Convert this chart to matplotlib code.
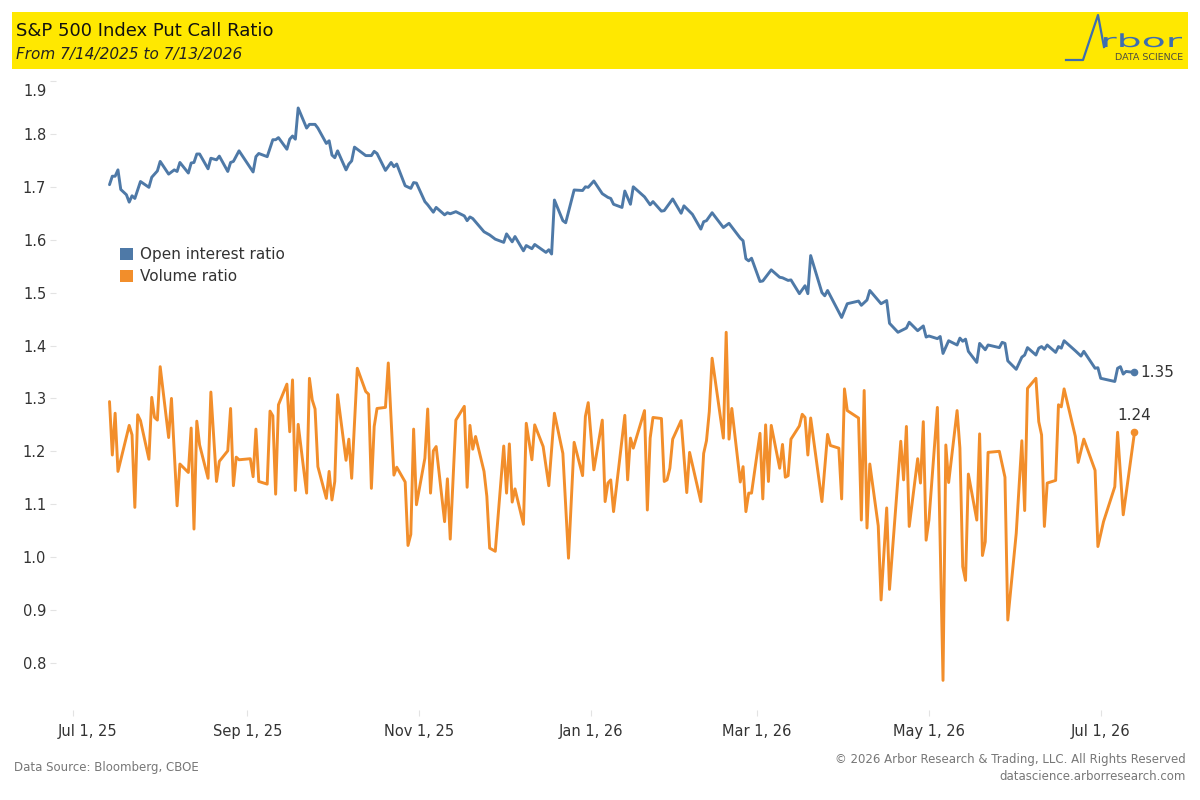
import matplotlib
matplotlib.use('Agg')
import matplotlib.pyplot as plt
import matplotlib.transforms as mtransforms
from matplotlib.patches import Patch, Rectangle, PathPatch
from matplotlib.lines import Line2D
from matplotlib.textpath import TextPath
from matplotlib.font_manager import FontProperties
import pandas as pd

BLUE = '#4E79A7'
ORANGE = '#F28E2B'
YELLOW = '#FFE800'
LOGO = '#3D6DB0'
TXT = '#333333'
GREY = '#777777'

# open interest put/call ratio (date, value)
oi_dates = [
    '2025-07-14', '2025-07-15', '2025-07-16', '2025-07-17', '2025-07-18', '2025-07-20', '2025-07-21',
    '2025-07-22', '2025-07-23', '2025-07-25', '2025-07-28', '2025-07-29', '2025-07-31',
    '2025-08-01', '2025-08-04', '2025-08-06', '2025-08-07', '2025-08-08', '2025-08-11', '2025-08-12',
    '2025-08-13', '2025-08-14', '2025-08-15', '2025-08-18', '2025-08-19', '2025-08-21', '2025-08-22',
    '2025-08-25', '2025-08-26', '2025-08-27', '2025-08-29',
    '2025-09-03', '2025-09-04', '2025-09-05', '2025-09-08', '2025-09-10', '2025-09-11', '2025-09-12',
    '2025-09-15', '2025-09-16', '2025-09-17', '2025-09-18', '2025-09-19', '2025-09-22', '2025-09-23',
    '2025-09-25', '2025-09-26', '2025-09-29', '2025-09-30',
    '2025-10-01', '2025-10-02', '2025-10-03', '2025-10-06', '2025-10-07', '2025-10-08', '2025-10-09',
    '2025-10-13', '2025-10-15', '2025-10-16', '2025-10-17', '2025-10-20', '2025-10-22', '2025-10-23',
    '2025-10-24', '2025-10-27', '2025-10-29', '2025-10-30', '2025-10-31',
    '2025-11-03', '2025-11-04', '2025-11-06', '2025-11-07', '2025-11-10', '2025-11-11', '2025-11-12',
    '2025-11-14', '2025-11-17', '2025-11-18', '2025-11-19', '2025-11-20', '2025-11-24', '2025-11-26',
    '2025-11-28',
    '2025-12-01', '2025-12-02', '2025-12-04', '2025-12-05', '2025-12-08', '2025-12-09', '2025-12-11',
    '2025-12-12', '2025-12-16', '2025-12-17', '2025-12-18', '2025-12-19', '2025-12-22', '2025-12-23',
    '2025-12-26', '2025-12-29', '2025-12-30', '2025-12-31',
    '2026-01-02', '2026-01-05', '2026-01-07', '2026-01-08', '2026-01-09', '2026-01-12', '2026-01-13',
    '2026-01-15', '2026-01-16', '2026-01-20', '2026-01-22', '2026-01-23', '2026-01-26', '2026-01-27',
    '2026-01-30',
    '2026-02-02', '2026-02-03', '2026-02-06', '2026-02-09', '2026-02-10', '2026-02-11', '2026-02-13',
    '2026-02-17', '2026-02-19', '2026-02-23', '2026-02-24', '2026-02-25', '2026-02-26', '2026-02-27',
    '2026-03-02', '2026-03-03', '2026-03-06', '2026-03-09', '2026-03-10', '2026-03-12', '2026-03-13',
    '2026-03-16', '2026-03-18', '2026-03-19', '2026-03-20', '2026-03-24', '2026-03-25', '2026-03-26',
    '2026-03-31',
    '2026-04-02', '2026-04-06', '2026-04-07', '2026-04-09', '2026-04-10', '2026-04-14', '2026-04-16',
    '2026-04-17', '2026-04-20', '2026-04-23', '2026-04-24', '2026-04-27', '2026-04-29', '2026-04-30',
    '2026-05-01', '2026-05-04', '2026-05-05', '2026-05-06', '2026-05-08', '2026-05-11', '2026-05-12',
    '2026-05-13', '2026-05-14', '2026-05-15', '2026-05-18', '2026-05-19', '2026-05-21', '2026-05-22',
    '2026-05-26', '2026-05-27', '2026-05-28', '2026-05-29',
    '2026-06-01', '2026-06-03', '2026-06-04', '2026-06-05', '2026-06-08', '2026-06-09', '2026-06-10',
    '2026-06-11', '2026-06-12', '2026-06-15', '2026-06-16', '2026-06-17', '2026-06-18', '2026-06-22',
    '2026-06-24', '2026-06-25', '2026-06-29', '2026-06-30',
    '2026-07-01', '2026-07-06', '2026-07-07', '2026-07-08', '2026-07-09', '2026-07-10', '2026-07-13',
]
oi_values = [
    1.704, 1.720, 1.720, 1.732, 1.695, 1.685, 1.671,
    1.683, 1.678, 1.710, 1.699, 1.718, 1.730,
    1.748, 1.724, 1.732, 1.729, 1.746, 1.726, 1.745,
    1.746, 1.762, 1.762, 1.734, 1.754, 1.751, 1.758,
    1.729, 1.746, 1.748, 1.768,
    1.728, 1.757, 1.763, 1.757, 1.789, 1.789, 1.793,
    1.771, 1.790, 1.796, 1.790, 1.849, 1.811, 1.818,
    1.818, 1.811, 1.782, 1.787,
    1.760, 1.755, 1.768, 1.732, 1.743, 1.749, 1.775,
    1.759, 1.759, 1.767, 1.763, 1.731, 1.746, 1.738,
    1.743, 1.702, 1.697, 1.708, 1.707,
    1.672, 1.666, 1.652, 1.661, 1.647, 1.651, 1.649,
    1.653, 1.645, 1.636, 1.643, 1.640, 1.615, 1.609,
    1.601,
    1.595, 1.611, 1.596, 1.606, 1.579, 1.589, 1.583,
    1.591, 1.576, 1.581, 1.573, 1.675, 1.636, 1.632,
    1.694, 1.693, 1.700, 1.699,
    1.711, 1.687, 1.680, 1.678, 1.667, 1.661, 1.692,
    1.667, 1.700, 1.681, 1.666, 1.672, 1.654, 1.655,
    1.677,
    1.650, 1.664, 1.648, 1.620, 1.634, 1.636, 1.651,
    1.623, 1.631, 1.603, 1.598, 1.564, 1.560, 1.565,
    1.521, 1.522, 1.543, 1.529, 1.528, 1.523, 1.524,
    1.498, 1.513, 1.498, 1.570, 1.500, 1.494, 1.504,
    1.453,
    1.479, 1.484, 1.476, 1.486, 1.504, 1.479, 1.485,
    1.442, 1.425, 1.433, 1.444, 1.428, 1.437, 1.416,
    1.418, 1.413, 1.417, 1.385, 1.409, 1.401, 1.414,
    1.408, 1.412, 1.389, 1.368, 1.404, 1.392, 1.401,
    1.396, 1.406, 1.404, 1.371,
    1.355, 1.378, 1.382, 1.396, 1.382, 1.395, 1.398,
    1.393, 1.401, 1.387, 1.398, 1.395, 1.409, 1.390,
    1.380, 1.389, 1.357, 1.358,
    1.338, 1.332, 1.357, 1.360, 1.346, 1.351, 1.349,
]

# volume put/call ratio
vol_dates = [
    '2025-07-14', '2025-07-15', '2025-07-16', '2025-07-17', '2025-07-21', '2025-07-22', '2025-07-23',
    '2025-07-24', '2025-07-25', '2025-07-28', '2025-07-29', '2025-07-30', '2025-07-31',
    '2025-08-01', '2025-08-04', '2025-08-05', '2025-08-07', '2025-08-08', '2025-08-11', '2025-08-12',
    '2025-08-13', '2025-08-14', '2025-08-15', '2025-08-18', '2025-08-19', '2025-08-21', '2025-08-22',
    '2025-08-25', '2025-08-26', '2025-08-27', '2025-08-28', '2025-08-29',
    '2025-09-02', '2025-09-03', '2025-09-04', '2025-09-05', '2025-09-08', '2025-09-09', '2025-09-10',
    '2025-09-11', '2025-09-12', '2025-09-15', '2025-09-16', '2025-09-17', '2025-09-18', '2025-09-19',
    '2025-09-22', '2025-09-23', '2025-09-24', '2025-09-25', '2025-09-26', '2025-09-29', '2025-09-30',
    '2025-10-01', '2025-10-02', '2025-10-03', '2025-10-06', '2025-10-07', '2025-10-08', '2025-10-10',
    '2025-10-13', '2025-10-14', '2025-10-15', '2025-10-16', '2025-10-17', '2025-10-20', '2025-10-21',
    '2025-10-23', '2025-10-24', '2025-10-27', '2025-10-28', '2025-10-29', '2025-10-30', '2025-10-31',
    '2025-11-03', '2025-11-04', '2025-11-05', '2025-11-06', '2025-11-07', '2025-11-10', '2025-11-11',
    '2025-11-12', '2025-11-14', '2025-11-17', '2025-11-18', '2025-11-19', '2025-11-20', '2025-11-21',
    '2025-11-24', '2025-11-25', '2025-11-26', '2025-11-28',
    '2025-12-01', '2025-12-02', '2025-12-03', '2025-12-04', '2025-12-05', '2025-12-08', '2025-12-09',
    '2025-12-11', '2025-12-12', '2025-12-15', '2025-12-17', '2025-12-19', '2025-12-22', '2025-12-24',
    '2025-12-26', '2025-12-29', '2025-12-30', '2025-12-31',
    '2026-01-02', '2026-01-05', '2026-01-06', '2026-01-07', '2026-01-08', '2026-01-09', '2026-01-13',
    '2026-01-14', '2026-01-15', '2026-01-16', '2026-01-20', '2026-01-21', '2026-01-22', '2026-01-23',
    '2026-01-26', '2026-01-27', '2026-01-28', '2026-01-29', '2026-01-30',
    '2026-02-02', '2026-02-04', '2026-02-05', '2026-02-09', '2026-02-10', '2026-02-11', '2026-02-12',
    '2026-02-13', '2026-02-17', '2026-02-18', '2026-02-19', '2026-02-20', '2026-02-23', '2026-02-24',
    '2026-02-25', '2026-02-26', '2026-02-27',
    '2026-03-02', '2026-03-03', '2026-03-04', '2026-03-05', '2026-03-06', '2026-03-09', '2026-03-10',
    '2026-03-11', '2026-03-12', '2026-03-13', '2026-03-16', '2026-03-17', '2026-03-18', '2026-03-19',
    '2026-03-20', '2026-03-24', '2026-03-26', '2026-03-27', '2026-03-30', '2026-03-31',
    '2026-04-01', '2026-04-02', '2026-04-06', '2026-04-07', '2026-04-08', '2026-04-09', '2026-04-10',
    '2026-04-13', '2026-04-14', '2026-04-16', '2026-04-17', '2026-04-21', '2026-04-22', '2026-04-23',
    '2026-04-24', '2026-04-27', '2026-04-28', '2026-04-29', '2026-04-30',
    '2026-05-01', '2026-05-04', '2026-05-06', '2026-05-07', '2026-05-08', '2026-05-11', '2026-05-12',
    '2026-05-13', '2026-05-14', '2026-05-15', '2026-05-18', '2026-05-19', '2026-05-20', '2026-05-21',
    '2026-05-22', '2026-05-26', '2026-05-28', '2026-05-29',
    '2026-06-01', '2026-06-03', '2026-06-04', '2026-06-05', '2026-06-08', '2026-06-09', '2026-06-10',
    '2026-06-11', '2026-06-12', '2026-06-15', '2026-06-16', '2026-06-17', '2026-06-18', '2026-06-22',
    '2026-06-23', '2026-06-25', '2026-06-29', '2026-06-30',
    '2026-07-02', '2026-07-06', '2026-07-07', '2026-07-09', '2026-07-13',
]
vol_values = [
    1.294, 1.193, 1.272, 1.162, 1.249, 1.231, 1.094,
    1.269, 1.258, 1.185, 1.302, 1.264, 1.259,
    1.360, 1.226, 1.300, 1.097, 1.176, 1.160, 1.244,
    1.053, 1.257, 1.212, 1.149, 1.312, 1.143, 1.181,
    1.201, 1.281, 1.135, 1.189, 1.184,
    1.186, 1.152, 1.242, 1.143, 1.138, 1.276, 1.267,
    1.119, 1.288, 1.327, 1.237, 1.335, 1.126, 1.251,
    1.121, 1.338, 1.297, 1.280, 1.171, 1.111, 1.162,
    1.108, 1.143, 1.307, 1.183, 1.223, 1.149, 1.357,
    1.313, 1.308, 1.130, 1.247, 1.281, 1.283, 1.367,
    1.155, 1.170, 1.142, 1.022, 1.043, 1.242, 1.099,
    1.187, 1.280, 1.121, 1.201, 1.209, 1.067, 1.148,
    1.034, 1.259, 1.285, 1.132, 1.249, 1.204, 1.228,
    1.162, 1.115, 1.017, 1.011,
    1.210, 1.121, 1.214, 1.104, 1.129, 1.062, 1.253,
    1.184, 1.250, 1.209, 1.135, 1.272, 1.196, 0.998,
    1.217, 1.154, 1.266, 1.292,
    1.165, 1.259, 1.105, 1.140, 1.146, 1.086, 1.268,
    1.146, 1.225, 1.206, 1.277, 1.089, 1.225, 1.264,
    1.262, 1.143, 1.146, 1.168, 1.223,
    1.258, 1.122, 1.198, 1.105, 1.196, 1.220, 1.275,
    1.376, 1.225, 1.425, 1.223, 1.281, 1.142, 1.171,
    1.086, 1.121, 1.121,
    1.234, 1.110, 1.250, 1.143, 1.249, 1.168, 1.213,
    1.151, 1.154, 1.223, 1.248, 1.270, 1.264, 1.193,
    1.263, 1.105, 1.232, 1.211, 1.206, 1.110,
    1.318, 1.277, 1.263, 1.070, 1.315, 1.055, 1.176,
    1.059, 0.919, 1.093, 0.939, 1.219, 1.146, 1.247,
    1.058, 1.186, 1.140, 1.256, 1.032,
    1.070, 1.283, 0.767, 1.212, 1.141, 1.277, 1.206,
    0.982, 0.956, 1.157, 1.070, 1.233, 1.003, 1.029,
    1.198, 1.200, 1.151, 0.881,
    1.045, 1.220, 1.088, 1.319, 1.338, 1.256, 1.231,
    1.058, 1.140, 1.145, 1.288, 1.284, 1.318, 1.228,
    1.179, 1.223, 1.164, 1.020,
    1.067, 1.133, 1.236, 1.080, 1.236,
]

y_ticks = [0.8, 0.9, 1.0, 1.1, 1.2, 1.3, 1.4, 1.5, 1.6, 1.7, 1.8, 1.9]
x_tick_dates = ['2025-07-01', '2025-09-01', '2025-11-01', '2026-01-01',
                '2026-03-01', '2026-05-01', '2026-07-01']
x_tick_labels = ['Jul 1, 25', 'Sep 1, 25', 'Nov 1, 25', 'Jan 1, 26',
                 'Mar 1, 26', 'May 1, 26', 'Jul 1, 26']

assert len(oi_dates) == len(oi_values)
assert len(vol_dates) == len(vol_values)

oi_x = pd.to_datetime(oi_dates)
vol_x = pd.to_datetime(vol_dates)

W, H = 1200, 800


def fx(px):
    return px / W


def fy(py):
    return 1 - py / H


fig = plt.figure(figsize=(12, 8), dpi=100)

# yellow header band
fig.add_artist(Rectangle((fx(12), fy(69)), fx(1176), 57 / H, transform=fig.transFigure,
                         facecolor=YELLOW, edgecolor='none', zorder=0))
fig.text(fx(16), fy(31), 'S&P 500 Index Put Call Ratio', fontsize=13, color='#111111',
         va='center', ha='left')
fig.text(fx(16), fy(54), 'From 7/14/2025 to 7/13/2026', fontsize=11, style='italic',
         color='#222222', va='center', ha='left')

# logo: spike "A" + wide "rbor"
fig.add_artist(Line2D([fx(1066), fx(1083), fx(1098), fx(1104)],
                      [fy(60), fy(60), fy(15), fy(47)],
                      transform=fig.transFigure, color=LOGO, lw=1.6, zorder=3))
tp = TextPath((0, 0), 'rbor', size=10, prop=FontProperties(family='DejaVu Sans', weight='normal'))
ext = tp.get_extents()
sx = 78 / ext.width
sy = 14 / ext.height
logo_tr = (mtransforms.Affine2D().translate(-ext.x0, 0).scale(sx / W, sy / H)
           .translate(fx(1104), fy(47)) + fig.transFigure)
fig.add_artist(PathPatch(tp, transform=logo_tr, facecolor=LOGO, edgecolor='none', zorder=3))
fig.text(fx(1183), fy(57), 'DATA SCIENCE', fontsize=6.8, color='#4d4d40',
         ha='right', va='center', zorder=3)

# plot area
ax = fig.add_axes([fx(56), fy(710), 1132 / W, 629 / H])
ax.plot(oi_x, oi_values, color=BLUE, lw=2.1, solid_joinstyle='round', solid_capstyle='round')
ax.plot(vol_x, vol_values, color=ORANGE, lw=2.1, solid_joinstyle='round', solid_capstyle='round')
ax.plot(oi_x[-1:], oi_values[-1:], 'o', color=BLUE, ms=4.5)
ax.plot(vol_x[-1:], vol_values[-1:], 'o', color=ORANGE, ms=4.5)
ax.annotate(f'{oi_values[-1]:.2f}', (oi_x[-1], oi_values[-1]), xytext=(4, 0),
            textcoords='offset points', ha='left', va='center', fontsize=11, color=TXT)
ax.annotate(f'{vol_values[-1]:.2f}', (vol_x[-1], vol_values[-1]), xytext=(0, 7),
            textcoords='offset points', ha='center', va='bottom', fontsize=11, color=TXT)

ax.set_xlim(pd.Timestamp('2025-06-25'), pd.Timestamp('2026-08-01'))
ax.set_ylim(0.711, 1.9)
for s in ax.spines.values():
    s.set_visible(False)

ax.set_yticks(y_ticks)
ax.set_yticklabels([f'{v:.1f}' for v in y_ticks])
ax.set_xticks(pd.to_datetime(x_tick_dates))
ax.set_xticklabels(x_tick_labels)
ax.tick_params(axis='both', length=4, width=0.8, color='#e3e3e3', labelsize=10.5,
               labelcolor=TXT)
ax.tick_params(axis='y', pad=3)
ax.tick_params(axis='x', pad=6)

# keep edge labels inside the plot like the original
top_lab = ax.get_yticklabels()[-1]
top_lab.set_transform(top_lab.get_transform()
                      + mtransforms.ScaledTranslation(0, -0.09, fig.dpi_scale_trans))
first_lab = ax.get_xticklabels()[0]
first_lab.set_transform(first_lab.get_transform()
                        + mtransforms.ScaledTranslation(0.15, 0, fig.dpi_scale_trans))

handles = [Patch(facecolor=BLUE, label='Open interest ratio'),
           Patch(facecolor=ORANGE, label='Volume ratio')]
ax.legend(handles=handles, loc='upper left', bbox_to_anchor=(fx(120), fy(247)),
          bbox_transform=fig.transFigure, frameon=False, fontsize=11,
          handlelength=0.85, handleheight=0.85, handletextpad=0.45,
          labelspacing=0.48, borderpad=0, borderaxespad=0, labelcolor=TXT)

# footer
fig.text(fx(14), fy(768), 'Data Source: Bloomberg, CBOE', fontsize=8.5, color=GREY,
         ha='left', va='center')
fig.text(fx(1186), fy(760), '\u00a9 2026 Arbor Research & Trading, LLC. All Rights Reserved',
         fontsize=8.5, color=GREY, ha='right', va='center')
fig.text(fx(1186), fy(777), 'datascience.arborresearch.com', fontsize=8.5, color=GREY,
         ha='right', va='center')

fig.savefig('out.png', dpi=100)
